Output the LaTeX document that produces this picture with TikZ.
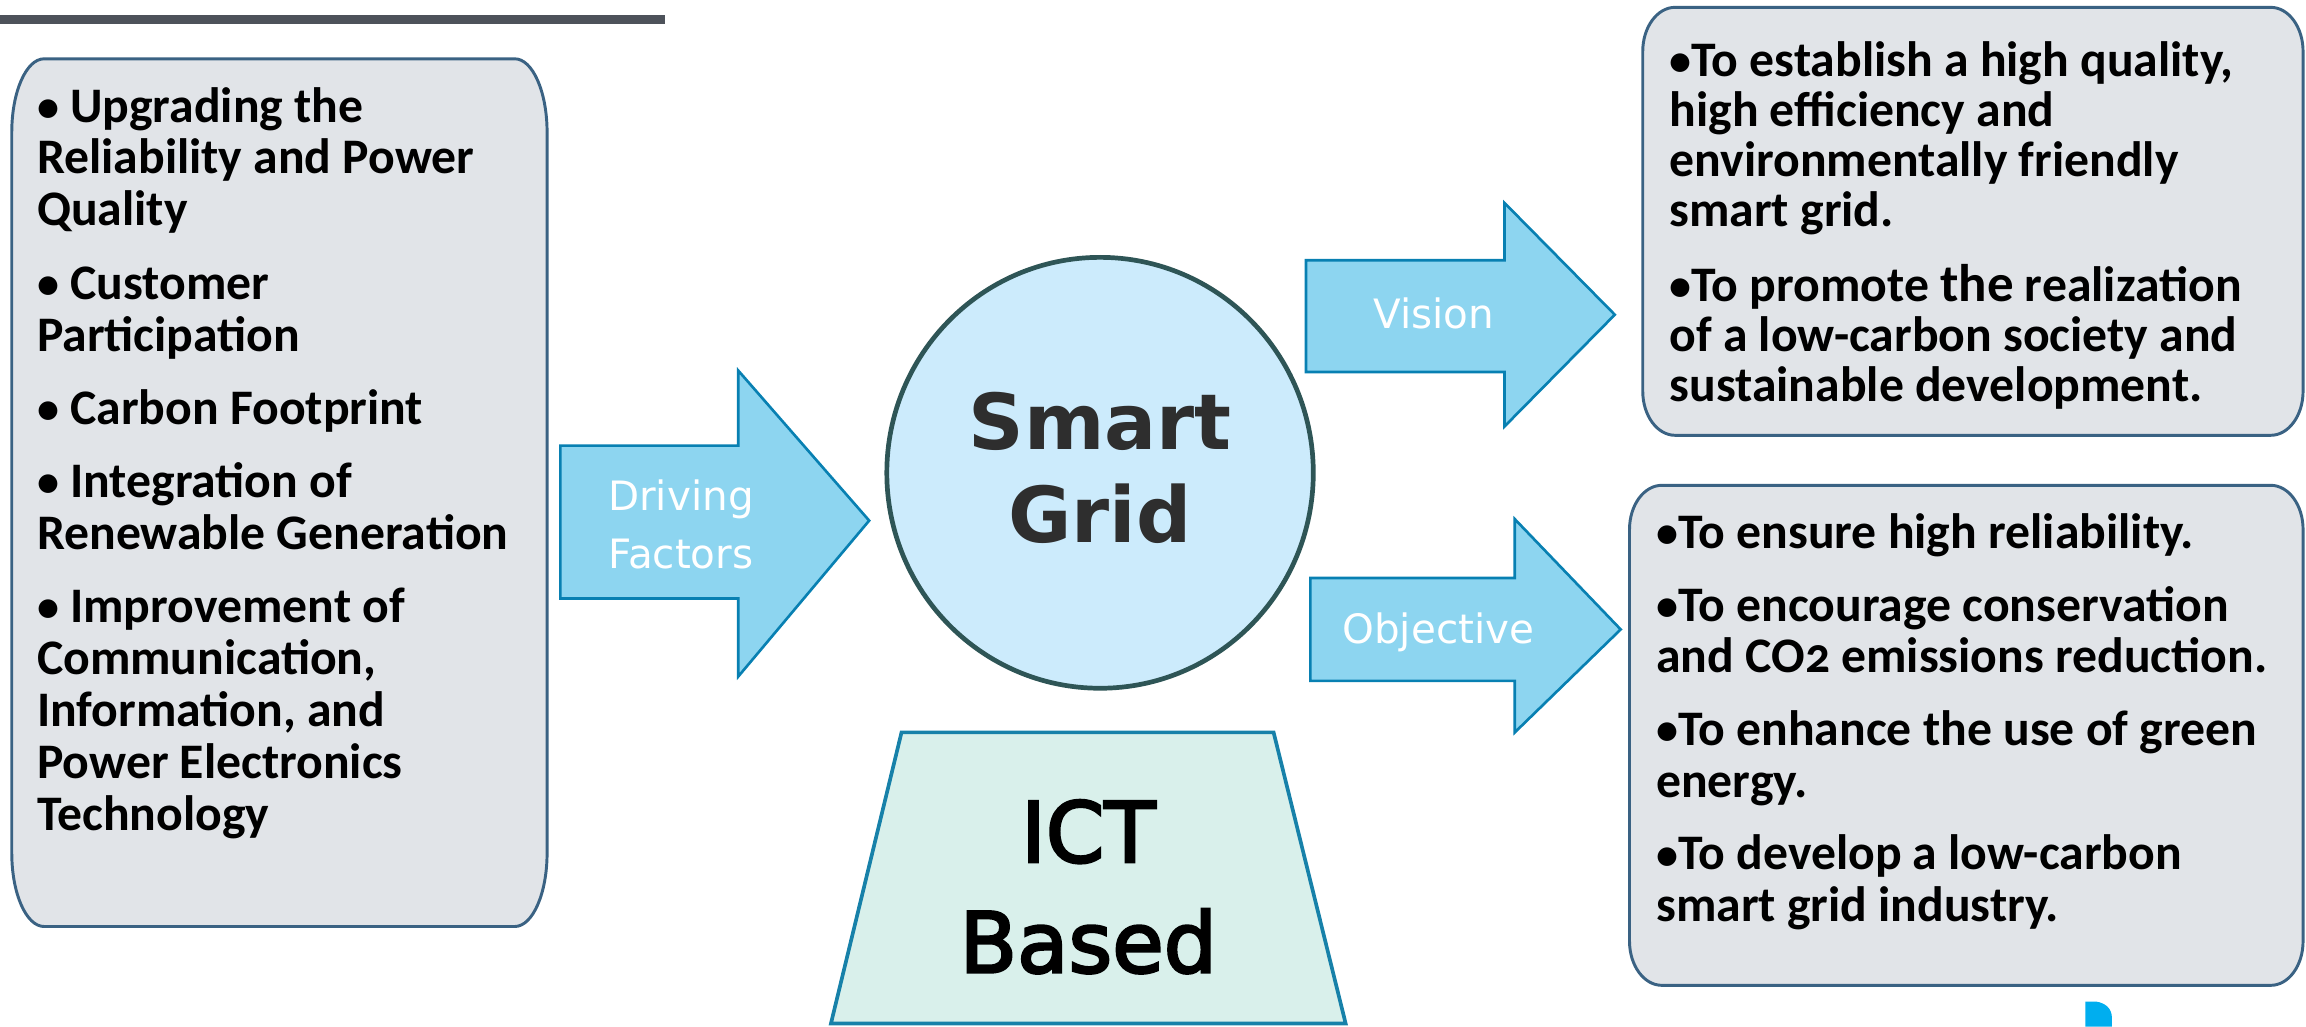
\documentclass[tikz,border=0pt]{standalone}
\usepackage{fontspec}
\setmainfont{Carlito}
\newfontfamily\dejavu{DejaVu Sans}
\newfontfamily\dejavuheavy{DejaVu Sans}[FakeBold=3]
\definecolor{boxfill}{HTML}{E1E4E8}
\definecolor{boxline}{HTML}{3A6283}
\definecolor{arrfill}{HTML}{8DD5F0}
\definecolor{arrline}{HTML}{0880B2}
\definecolor{circfill}{HTML}{CCEBFC}
\definecolor{circline}{HTML}{2E5556}
\definecolor{trapfill}{HTML}{D9F0EB}
\definecolor{trapline}{HTML}{1781A9}
\definecolor{barcol}{HTML}{4D525A}
\definecolor{sgtext}{HTML}{2E2E2E}
\definecolor{logoblue}{HTML}{00AEEF}
\newcommand\bul{\raisebox{0.5pt}{\fontsize{30}{30}\selectfont•}}
\begin{document}
\begin{tikzpicture}[x=1pt,y=1pt,
  panel/.style={fill=boxfill,draw=boxline,line width=2pt},
  bigarrow/.style={fill=arrfill,draw=arrline,line width=1.8pt,line join=miter},
  arrlabel/.style={inner sep=0pt,text=white,font=\dejavu\fontsize{27.5}{39}\selectfont,align=center},
  listtext/.style={inner sep=0pt,anchor=base west,font=\bfseries\fontsize{33.8}{35.3}\selectfont}]
\useasboundingbox (0,0) rectangle (1568,698);
% top bar
\fill[barcol] (0,682) rectangle (452,688);
% left panel
\draw[panel] (30,658) -- (350,658) arc[start angle=90,end angle=0,x radius=22,y radius=50]
  -- (372,118) arc[start angle=0,end angle=-90,x radius=22,y radius=50]
  -- (30,68) arc[start angle=270,end angle=180,x radius=22,y radius=50]
  -- (8,608) arc[start angle=180,end angle=90,x radius=22,y radius=50] -- cycle;
\node[listtext] (drivers) at (25,615) {\parbox[t]{360pt}{\raggedright
\bul{} Upgrading the\\ Reliability and Power\\ Quality\\[14.5pt]
\bul{} Customer\\ Participation\\[14.5pt]
\bul{} Carbon Footprint\\[14.5pt]
\bul{} Integration of\\ Renewable Generation\\[14.5pt]
\bul{} Improvement of\\ Communication,\\ Information, and\\ Power Electronics\\ Technology}};
% driving factors arrow
\draw[bigarrow] (381,291) -- (381,395) -- (502,395) -- (502,446) -- (591,344) -- (502,238) -- (502,291) -- cycle;
\node[arrlabel] (drvlabel) at (463,341.5) {Driving\\Factors};
% smart grid circle
\draw[fill=circfill,draw=circline,line width=3.2pt] (748,376.5) ellipse[x radius=145,y radius=146.5];
\node[inner sep=0pt,align=center,text=sgtext,font=\dejavu\bfseries\fontsize{52.5}{63}\selectfont] (sg) at (748,380) {Smart\\Grid};
% vision arrow
\draw[bigarrow] (888,445) -- (888,521) -- (1023,521) -- (1023,560) -- (1098,484) -- (1023,408) -- (1023,445) -- cycle;
\node[arrlabel,anchor=base] (vislabel) at (975,474.5) {Vision};
% objective arrow
\draw[bigarrow] (891,235) -- (891,305) -- (1030,305) -- (1030,345) -- (1102,270) -- (1030,200) -- (1030,235) -- cycle;
\node[arrlabel,anchor=base] (objlabel) at (978,260.5) {Objective};
% ICT trapezoid
\draw[fill=trapfill,draw=trapline,line width=2.5pt,line join=miter] (565,2) -- (613,200) -- (866,200) -- (915,2) -- cycle;
\node[inner sep=0pt,align=center,font=\dejavuheavy\fontsize{57}{75}\selectfont] (ict) at (740,95) {ICT\\Based};
% vision panel
\draw[panel] (1139,693) -- (1544,693) arc[start angle=90,end angle=0,x radius=22,y radius=30]
  -- (1566,432) arc[start angle=0,end angle=-90,x radius=22,y radius=30]
  -- (1139,402) arc[start angle=270,end angle=180,x radius=22,y radius=30]
  -- (1117,663) arc[start angle=180,end angle=90,x radius=22,y radius=30] -- cycle;
\node[listtext] (vistext) at (1135,646) {\fontsize{33.8}{34}\selectfont\parbox[t]{470pt}{\raggedright
\bul{}To establish a high quality,\\ high efficiency and\\ environmentally friendly\\ smart grid.\\[17pt]
\bul{}To promote {\fontsize{36}{34}\selectfont the} realization\\ of a low-carbon society and\\ sustainable development.}};
% objective panel
\draw[panel] (1130,368) -- (1544,368) arc[start angle=90,end angle=0,x radius=22,y radius=30]
  -- (1566,58) arc[start angle=0,end angle=-90,x radius=22,y radius=30]
  -- (1130,28) arc[start angle=270,end angle=180,x radius=22,y radius=30]
  -- (1108,338) arc[start angle=180,end angle=90,x radius=22,y radius=30] -- cycle;
\node[listtext] (objtext) at (1126,325) {\parbox[t]{470pt}{\raggedright
\bul{}To ensure high reliability.\\[14pt]
\bul{}To encourage conservation\\ and CO{\addfontfeatures{Numbers=OldStyle}2} emissions reduction.\\[14pt]
\bul{}To enhance the use of green\\ energy.\\[14pt]
\bul{}To develop a low-carbon\\ smart grid industry.}};
% small logo fragment
\fill[logoblue] (1418,0) -- (1418,17) -- (1425,17) .. controls (1432,16) and (1436,12) .. (1436,6) -- (1436,0) -- cycle;
\end{tikzpicture}
\end{document}
